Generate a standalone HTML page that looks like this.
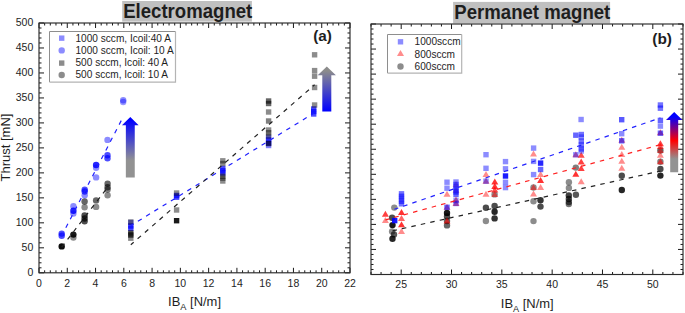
<!DOCTYPE html><html><head><meta charset="utf-8"><style>html,body{margin:0;padding:0;background:#fff;}svg{display:block;}text{font-family:"Liberation Sans",sans-serif;fill:#1e1e1e;}</style></head><body>
<svg width="685" height="313" viewBox="0 0 685 313">
<defs>
<linearGradient id="g1" x1="0" y1="0" x2="0" y2="1"><stop offset="0.05" stop-color="#0000ff"/><stop offset="0.72" stop-color="#929292"/><stop offset="1" stop-color="#929292"/></linearGradient>
<linearGradient id="g2" x1="0" y1="0" x2="0" y2="1"><stop offset="0.1" stop-color="#8c8c8c"/><stop offset="1" stop-color="#0000ff"/></linearGradient>
<linearGradient id="g3" x1="0" y1="0" x2="0" y2="1"><stop offset="0.08" stop-color="#0000ff"/><stop offset="0.475" stop-color="#ff0000"/><stop offset="0.78" stop-color="#929292"/><stop offset="1" stop-color="#929292"/></linearGradient>
</defs>
<rect x="122.2" y="1" width="129.7" height="20.6" fill="#c0c0c0"/>
<text transform="translate(187.7,17.9) scale(1,1.06)" font-size="18.6" text-anchor="middle" font-weight="bold">Electromagnet</text>
<rect x="453.1" y="1.9" width="157" height="21.4" fill="#c0c0c0"/>
<text transform="translate(532.3,18.9) scale(1,1.06)" font-size="18.6" text-anchor="middle" font-weight="bold">Permanet magnet</text>
<path d="M39.0,272.80h5M350.0,272.80h-5M39.0,267.80h2.5M350.0,267.80h-2.5M39.0,262.81h2.5M350.0,262.81h-2.5M39.0,257.81h2.5M350.0,257.81h-2.5M39.0,252.82h2.5M350.0,252.82h-2.5M39.0,247.82h5M350.0,247.82h-5M39.0,242.82h2.5M350.0,242.82h-2.5M39.0,237.83h2.5M350.0,237.83h-2.5M39.0,232.83h2.5M350.0,232.83h-2.5M39.0,227.84h2.5M350.0,227.84h-2.5M39.0,222.84h5M350.0,222.84h-5M39.0,217.84h2.5M350.0,217.84h-2.5M39.0,212.85h2.5M350.0,212.85h-2.5M39.0,207.85h2.5M350.0,207.85h-2.5M39.0,202.86h2.5M350.0,202.86h-2.5M39.0,197.86h5M350.0,197.86h-5M39.0,192.86h2.5M350.0,192.86h-2.5M39.0,187.87h2.5M350.0,187.87h-2.5M39.0,182.87h2.5M350.0,182.87h-2.5M39.0,177.88h2.5M350.0,177.88h-2.5M39.0,172.88h5M350.0,172.88h-5M39.0,167.88h2.5M350.0,167.88h-2.5M39.0,162.89h2.5M350.0,162.89h-2.5M39.0,157.89h2.5M350.0,157.89h-2.5M39.0,152.90h2.5M350.0,152.90h-2.5M39.0,147.90h5M350.0,147.90h-5M39.0,142.90h2.5M350.0,142.90h-2.5M39.0,137.91h2.5M350.0,137.91h-2.5M39.0,132.91h2.5M350.0,132.91h-2.5M39.0,127.92h2.5M350.0,127.92h-2.5M39.0,122.92h5M350.0,122.92h-5M39.0,117.92h2.5M350.0,117.92h-2.5M39.0,112.93h2.5M350.0,112.93h-2.5M39.0,107.93h2.5M350.0,107.93h-2.5M39.0,102.94h2.5M350.0,102.94h-2.5M39.0,97.94h5M350.0,97.94h-5M39.0,92.94h2.5M350.0,92.94h-2.5M39.0,87.95h2.5M350.0,87.95h-2.5M39.0,82.95h2.5M350.0,82.95h-2.5M39.0,77.96h2.5M350.0,77.96h-2.5M39.0,72.96h5M350.0,72.96h-5M39.0,67.96h2.5M350.0,67.96h-2.5M39.0,62.97h2.5M350.0,62.97h-2.5M39.0,57.97h2.5M350.0,57.97h-2.5M39.0,52.98h2.5M350.0,52.98h-2.5M39.0,47.98h5M350.0,47.98h-5M39.0,42.98h2.5M350.0,42.98h-2.5M39.0,37.99h2.5M350.0,37.99h-2.5M39.0,32.99h2.5M350.0,32.99h-2.5M39.0,28.00h2.5M350.0,28.00h-2.5M39.0,23.00h5M350.0,23.00h-5M39.00,272.8v-5M39.00,23.0v5M44.65,272.8v-2.5M44.65,23.0v2.5M50.31,272.8v-2.5M50.31,23.0v2.5M55.96,272.8v-2.5M55.96,23.0v2.5M61.62,272.8v-2.5M61.62,23.0v2.5M67.27,272.8v-5M67.27,23.0v5M72.93,272.8v-2.5M72.93,23.0v2.5M78.58,272.8v-2.5M78.58,23.0v2.5M84.24,272.8v-2.5M84.24,23.0v2.5M89.89,272.8v-2.5M89.89,23.0v2.5M95.55,272.8v-5M95.55,23.0v5M101.20,272.8v-2.5M101.20,23.0v2.5M106.85,272.8v-2.5M106.85,23.0v2.5M112.51,272.8v-2.5M112.51,23.0v2.5M118.16,272.8v-2.5M118.16,23.0v2.5M123.82,272.8v-5M123.82,23.0v5M129.47,272.8v-2.5M129.47,23.0v2.5M135.13,272.8v-2.5M135.13,23.0v2.5M140.78,272.8v-2.5M140.78,23.0v2.5M146.44,272.8v-2.5M146.44,23.0v2.5M152.09,272.8v-5M152.09,23.0v5M157.75,272.8v-2.5M157.75,23.0v2.5M163.40,272.8v-2.5M163.40,23.0v2.5M169.05,272.8v-2.5M169.05,23.0v2.5M174.71,272.8v-2.5M174.71,23.0v2.5M180.36,272.8v-5M180.36,23.0v5M186.02,272.8v-2.5M186.02,23.0v2.5M191.67,272.8v-2.5M191.67,23.0v2.5M197.33,272.8v-2.5M197.33,23.0v2.5M202.98,272.8v-2.5M202.98,23.0v2.5M208.64,272.8v-5M208.64,23.0v5M214.29,272.8v-2.5M214.29,23.0v2.5M219.95,272.8v-2.5M219.95,23.0v2.5M225.60,272.8v-2.5M225.60,23.0v2.5M231.25,272.8v-2.5M231.25,23.0v2.5M236.91,272.8v-5M236.91,23.0v5M242.56,272.8v-2.5M242.56,23.0v2.5M248.22,272.8v-2.5M248.22,23.0v2.5M253.87,272.8v-2.5M253.87,23.0v2.5M259.53,272.8v-2.5M259.53,23.0v2.5M265.18,272.8v-5M265.18,23.0v5M270.84,272.8v-2.5M270.84,23.0v2.5M276.49,272.8v-2.5M276.49,23.0v2.5M282.15,272.8v-2.5M282.15,23.0v2.5M287.80,272.8v-2.5M287.80,23.0v2.5M293.45,272.8v-5M293.45,23.0v5M299.11,272.8v-2.5M299.11,23.0v2.5M304.76,272.8v-2.5M304.76,23.0v2.5M310.42,272.8v-2.5M310.42,23.0v2.5M316.07,272.8v-2.5M316.07,23.0v2.5M321.73,272.8v-5M321.73,23.0v5M327.38,272.8v-2.5M327.38,23.0v2.5M333.04,272.8v-2.5M333.04,23.0v2.5M338.69,272.8v-2.5M338.69,23.0v2.5M344.35,272.8v-2.5M344.35,23.0v2.5M350.00,272.8v-5M350.00,23.0v5" stroke="#1a1a1a" stroke-width="1.0" fill="none"/>
<rect x="39.0" y="23.0" width="311.0" height="249.8" fill="none" stroke="#2a2a2a" stroke-width="1.15"/>
<path d="M371.0,274.50h5M683.0,274.50h-5M371.0,269.49h2.5M683.0,269.49h-2.5M371.0,264.48h2.5M683.0,264.48h-2.5M371.0,259.47h2.5M683.0,259.47h-2.5M371.0,254.46h2.5M683.0,254.46h-2.5M371.0,249.45h5M683.0,249.45h-5M371.0,244.44h2.5M683.0,244.44h-2.5M371.0,239.43h2.5M683.0,239.43h-2.5M371.0,234.42h2.5M683.0,234.42h-2.5M371.0,229.41h2.5M683.0,229.41h-2.5M371.0,224.40h5M683.0,224.40h-5M371.0,219.39h2.5M683.0,219.39h-2.5M371.0,214.38h2.5M683.0,214.38h-2.5M371.0,209.37h2.5M683.0,209.37h-2.5M371.0,204.36h2.5M683.0,204.36h-2.5M371.0,199.35h5M683.0,199.35h-5M371.0,194.34h2.5M683.0,194.34h-2.5M371.0,189.33h2.5M683.0,189.33h-2.5M371.0,184.32h2.5M683.0,184.32h-2.5M371.0,179.31h2.5M683.0,179.31h-2.5M371.0,174.30h5M683.0,174.30h-5M371.0,169.29h2.5M683.0,169.29h-2.5M371.0,164.28h2.5M683.0,164.28h-2.5M371.0,159.27h2.5M683.0,159.27h-2.5M371.0,154.26h2.5M683.0,154.26h-2.5M371.0,149.25h5M683.0,149.25h-5M371.0,144.24h2.5M683.0,144.24h-2.5M371.0,139.23h2.5M683.0,139.23h-2.5M371.0,134.22h2.5M683.0,134.22h-2.5M371.0,129.21h2.5M683.0,129.21h-2.5M371.0,124.20h5M683.0,124.20h-5M371.0,119.19h2.5M683.0,119.19h-2.5M371.0,114.18h2.5M683.0,114.18h-2.5M371.0,109.17h2.5M683.0,109.17h-2.5M371.0,104.16h2.5M683.0,104.16h-2.5M371.0,99.15h5M683.0,99.15h-5M371.0,94.14h2.5M683.0,94.14h-2.5M371.0,89.13h2.5M683.0,89.13h-2.5M371.0,84.12h2.5M683.0,84.12h-2.5M371.0,79.11h2.5M683.0,79.11h-2.5M371.0,74.10h5M683.0,74.10h-5M371.0,69.09h2.5M683.0,69.09h-2.5M371.0,64.08h2.5M683.0,64.08h-2.5M371.0,59.07h2.5M683.0,59.07h-2.5M371.0,54.06h2.5M683.0,54.06h-2.5M371.0,49.05h5M683.0,49.05h-5M371.0,44.04h2.5M683.0,44.04h-2.5M371.0,39.03h2.5M683.0,39.03h-2.5M371.0,34.02h2.5M683.0,34.02h-2.5M371.0,29.01h2.5M683.0,29.01h-2.5M371.0,24.00h5M683.0,24.00h-5M371.00,274.5v-2.5M371.00,24.0v2.5M381.06,274.5v-2.5M381.06,24.0v2.5M391.13,274.5v-2.5M391.13,24.0v2.5M401.19,274.5v-5M401.19,24.0v5M411.26,274.5v-2.5M411.26,24.0v2.5M421.32,274.5v-2.5M421.32,24.0v2.5M431.39,274.5v-2.5M431.39,24.0v2.5M441.45,274.5v-2.5M441.45,24.0v2.5M451.52,274.5v-5M451.52,24.0v5M461.58,274.5v-2.5M461.58,24.0v2.5M471.65,274.5v-2.5M471.65,24.0v2.5M481.71,274.5v-2.5M481.71,24.0v2.5M491.77,274.5v-2.5M491.77,24.0v2.5M501.84,274.5v-5M501.84,24.0v5M511.90,274.5v-2.5M511.90,24.0v2.5M521.97,274.5v-2.5M521.97,24.0v2.5M532.03,274.5v-2.5M532.03,24.0v2.5M542.10,274.5v-2.5M542.10,24.0v2.5M552.16,274.5v-5M552.16,24.0v5M562.23,274.5v-2.5M562.23,24.0v2.5M572.29,274.5v-2.5M572.29,24.0v2.5M582.35,274.5v-2.5M582.35,24.0v2.5M592.42,274.5v-2.5M592.42,24.0v2.5M602.48,274.5v-5M602.48,24.0v5M612.55,274.5v-2.5M612.55,24.0v2.5M622.61,274.5v-2.5M622.61,24.0v2.5M632.68,274.5v-2.5M632.68,24.0v2.5M642.74,274.5v-2.5M642.74,24.0v2.5M652.81,274.5v-5M652.81,24.0v5M662.87,274.5v-2.5M662.87,24.0v2.5M672.94,274.5v-2.5M672.94,24.0v2.5M683.00,274.5v-2.5M683.00,24.0v2.5" stroke="#1a1a1a" stroke-width="1.0" fill="none"/>
<rect x="371.0" y="24.0" width="312.0" height="250.5" fill="none" stroke="#2a2a2a" stroke-width="1.15"/>
<text x="33.3" y="276.1" font-size="10.5" text-anchor="end" font-weight="normal" >0</text>
<text x="33.3" y="251.12000000000003" font-size="10.5" text-anchor="end" font-weight="normal" >50</text>
<text x="33.3" y="226.14000000000001" font-size="10.5" text-anchor="end" font-weight="normal" >100</text>
<text x="33.3" y="201.16000000000003" font-size="10.5" text-anchor="end" font-weight="normal" >150</text>
<text x="33.3" y="176.18" font-size="10.5" text-anchor="end" font-weight="normal" >200</text>
<text x="33.3" y="151.20000000000002" font-size="10.5" text-anchor="end" font-weight="normal" >250</text>
<text x="33.3" y="126.22000000000001" font-size="10.5" text-anchor="end" font-weight="normal" >300</text>
<text x="33.3" y="101.24" font-size="10.5" text-anchor="end" font-weight="normal" >350</text>
<text x="33.3" y="76.26" font-size="10.5" text-anchor="end" font-weight="normal" >400</text>
<text x="33.3" y="51.280000000000015" font-size="10.5" text-anchor="end" font-weight="normal" >450</text>
<text x="33.3" y="26.3" font-size="10.5" text-anchor="end" font-weight="normal" >500</text>
<text x="39.0" y="286.6" font-size="10.5" text-anchor="middle" font-weight="normal" >0</text>
<text x="67.27272727272728" y="286.6" font-size="10.5" text-anchor="middle" font-weight="normal" >2</text>
<text x="95.54545454545455" y="286.6" font-size="10.5" text-anchor="middle" font-weight="normal" >4</text>
<text x="123.81818181818181" y="286.6" font-size="10.5" text-anchor="middle" font-weight="normal" >6</text>
<text x="152.0909090909091" y="286.6" font-size="10.5" text-anchor="middle" font-weight="normal" >8</text>
<text x="180.36363636363637" y="286.6" font-size="10.5" text-anchor="middle" font-weight="normal" >10</text>
<text x="208.63636363636363" y="286.6" font-size="10.5" text-anchor="middle" font-weight="normal" >12</text>
<text x="236.9090909090909" y="286.6" font-size="10.5" text-anchor="middle" font-weight="normal" >14</text>
<text x="265.1818181818182" y="286.6" font-size="10.5" text-anchor="middle" font-weight="normal" >16</text>
<text x="293.4545454545455" y="286.6" font-size="10.5" text-anchor="middle" font-weight="normal" >18</text>
<text x="321.72727272727275" y="286.6" font-size="10.5" text-anchor="middle" font-weight="normal" >20</text>
<text x="350.0" y="286.6" font-size="10.5" text-anchor="middle" font-weight="normal" >22</text>
<text x="401.19354838709677" y="288.0" font-size="10.5" text-anchor="middle" font-weight="normal" >25</text>
<text x="451.51612903225805" y="288.0" font-size="10.5" text-anchor="middle" font-weight="normal" >30</text>
<text x="501.8387096774194" y="288.0" font-size="10.5" text-anchor="middle" font-weight="normal" >35</text>
<text x="552.1612903225806" y="288.0" font-size="10.5" text-anchor="middle" font-weight="normal" >40</text>
<text x="602.483870967742" y="288.0" font-size="10.5" text-anchor="middle" font-weight="normal" >45</text>
<text x="652.8064516129032" y="288.0" font-size="10.5" text-anchor="middle" font-weight="normal" >50</text>
<text transform="translate(10.4,147.5) rotate(-90)" font-size="13" text-anchor="middle">Thrust [mN]</text>
<text transform="translate(168.1,306) scale(1,1)" font-size="12.95">IB<tspan font-size="9.2" dy="4">A</tspan><tspan dy="-4"> [N/m]</tspan></text>
<text transform="translate(500.8,307.8) scale(1,1)" font-size="12.95">IB<tspan font-size="9.2" dy="4">A</tspan><tspan dy="-4"> [N/m]</tspan></text>
<text transform="translate(322.6,40.7) scale(1.02,1)" font-size="15" text-anchor="middle" font-weight="bold" >(a)</text>
<text transform="translate(662.1,44.1) scale(1.03,1)" font-size="15" text-anchor="middle" font-weight="bold" >(b)</text>
<rect x="128.10" y="219.80" width="5.4" height="5.4" fill="#0000ff" fill-opacity="0.45"/>
<rect x="128.10" y="223.30" width="5.4" height="5.4" fill="#0000ff" fill-opacity="0.7"/>
<rect x="128.10" y="225.60" width="5.4" height="5.4" fill="#0000ff" fill-opacity="0.7"/>
<rect x="173.90" y="192.80" width="5.4" height="5.4" fill="#0000ff" fill-opacity="0.7"/>
<rect x="173.90" y="194.50" width="5.4" height="5.4" fill="#0000ff" fill-opacity="0.7"/>
<rect x="220.10" y="165.80" width="5.4" height="5.4" fill="#0000ff" fill-opacity="0.7"/>
<rect x="220.10" y="168.10" width="5.4" height="5.4" fill="#0000ff" fill-opacity="0.7"/>
<rect x="220.10" y="170.30" width="5.4" height="5.4" fill="#0000ff" fill-opacity="0.7"/>
<rect x="265.90" y="134.80" width="5.4" height="5.4" fill="#0000ff" fill-opacity="0.45"/>
<rect x="265.90" y="137.30" width="5.4" height="5.4" fill="#0000ff" fill-opacity="0.7"/>
<rect x="265.90" y="140.30" width="5.4" height="5.4" fill="#0000ff" fill-opacity="0.7"/>
<rect x="265.90" y="142.80" width="5.4" height="5.4" fill="#0000ff" fill-opacity="0.5"/>
<rect x="311.00" y="106.30" width="5.4" height="5.4" fill="#0000ff" fill-opacity="0.7"/>
<rect x="311.00" y="108.80" width="5.4" height="5.4" fill="#0000ff" fill-opacity="0.7"/>
<rect x="311.00" y="111.30" width="5.4" height="5.4" fill="#0000ff" fill-opacity="0.7"/>
<circle cx="61.70" cy="233.60" r="3.2" fill="#0000ff" fill-opacity="0.7"/>
<circle cx="61.70" cy="235.80" r="3.2" fill="#0000ff" fill-opacity="0.7"/>
<circle cx="73.40" cy="206.30" r="3.2" fill="#0000ff" fill-opacity="0.45"/>
<circle cx="73.40" cy="210.80" r="3.2" fill="#0000ff" fill-opacity="0.85"/>
<circle cx="73.40" cy="213.50" r="3.2" fill="#0000ff" fill-opacity="0.45"/>
<circle cx="84.70" cy="189.80" r="3.2" fill="#0000ff" fill-opacity="0.7"/>
<circle cx="84.70" cy="191.50" r="3.2" fill="#0000ff" fill-opacity="0.7"/>
<circle cx="84.70" cy="195.20" r="3.2" fill="#0000ff" fill-opacity="0.45"/>
<circle cx="96.10" cy="165.00" r="3.2" fill="#0000ff" fill-opacity="0.85"/>
<circle cx="96.10" cy="167.80" r="3.2" fill="#0000ff" fill-opacity="0.45"/>
<circle cx="96.10" cy="177.40" r="3.2" fill="#0000ff" fill-opacity="0.45"/>
<circle cx="107.50" cy="139.90" r="3.2" fill="#0000ff" fill-opacity="0.45"/>
<circle cx="107.50" cy="155.30" r="3.2" fill="#0000ff" fill-opacity="0.7"/>
<circle cx="107.50" cy="158.30" r="3.2" fill="#0000ff" fill-opacity="0.7"/>
<circle cx="123.20" cy="100.20" r="3.2" fill="#0000ff" fill-opacity="0.45"/>
<circle cx="123.20" cy="102.00" r="3.2" fill="#0000ff" fill-opacity="0.4"/>
<rect x="128.10" y="219.30" width="5.4" height="5.4" fill="#000000" fill-opacity="0.45"/>
<rect x="128.10" y="230.30" width="5.4" height="5.4" fill="#000000" fill-opacity="0.7"/>
<rect x="128.10" y="232.30" width="5.4" height="5.4" fill="#000000" fill-opacity="0.7"/>
<rect x="128.10" y="235.50" width="5.4" height="5.4" fill="#000000" fill-opacity="0.45"/>
<rect x="173.90" y="190.30" width="5.4" height="5.4" fill="#000000" fill-opacity="0.45"/>
<rect x="173.90" y="207.30" width="5.4" height="5.4" fill="#000000" fill-opacity="0.45"/>
<rect x="173.90" y="218.00" width="5.4" height="5.4" fill="#000000" fill-opacity="0.9"/>
<rect x="220.10" y="158.10" width="5.4" height="5.4" fill="#000000" fill-opacity="0.45"/>
<rect x="220.10" y="160.80" width="5.4" height="5.4" fill="#000000" fill-opacity="0.45"/>
<rect x="220.10" y="173.60" width="5.4" height="5.4" fill="#000000" fill-opacity="0.5"/>
<rect x="220.10" y="175.60" width="5.4" height="5.4" fill="#000000" fill-opacity="0.4"/>
<rect x="220.10" y="178.30" width="5.4" height="5.4" fill="#000000" fill-opacity="0.45"/>
<rect x="265.90" y="98.30" width="5.4" height="5.4" fill="#000000" fill-opacity="0.6"/>
<rect x="265.90" y="100.80" width="5.4" height="5.4" fill="#000000" fill-opacity="0.6"/>
<rect x="265.90" y="109.30" width="5.4" height="5.4" fill="#000000" fill-opacity="0.45"/>
<rect x="265.90" y="118.30" width="5.4" height="5.4" fill="#000000" fill-opacity="0.5"/>
<rect x="265.90" y="127.30" width="5.4" height="5.4" fill="#000000" fill-opacity="0.45"/>
<rect x="265.90" y="130.00" width="5.4" height="5.4" fill="#000000" fill-opacity="0.45"/>
<rect x="265.90" y="133.30" width="5.4" height="5.4" fill="#000000" fill-opacity="0.4"/>
<rect x="265.90" y="140.80" width="5.4" height="5.4" fill="#000000" fill-opacity="0.6"/>
<rect x="311.90" y="52.10" width="5.4" height="5.4" fill="#000000" fill-opacity="0.45"/>
<rect x="311.90" y="67.90" width="5.4" height="5.4" fill="#000000" fill-opacity="0.45"/>
<rect x="311.90" y="73.50" width="5.4" height="5.4" fill="#000000" fill-opacity="0.45"/>
<rect x="311.90" y="84.80" width="5.4" height="5.4" fill="#000000" fill-opacity="0.45"/>
<rect x="311.90" y="102.30" width="5.4" height="5.4" fill="#000000" fill-opacity="0.45"/>
<circle cx="61.70" cy="246.40" r="3.2" fill="#000000" fill-opacity="0.95"/>
<circle cx="73.40" cy="234.60" r="3.2" fill="#000000" fill-opacity="0.9"/>
<circle cx="73.40" cy="237.60" r="3.2" fill="#000000" fill-opacity="0.45"/>
<circle cx="84.60" cy="201.50" r="3.2" fill="#000000" fill-opacity="0.6"/>
<circle cx="84.60" cy="207.30" r="3.2" fill="#000000" fill-opacity="0.45"/>
<circle cx="84.60" cy="215.50" r="3.2" fill="#000000" fill-opacity="0.7"/>
<circle cx="84.60" cy="218.50" r="3.2" fill="#000000" fill-opacity="0.7"/>
<circle cx="84.60" cy="221.20" r="3.2" fill="#000000" fill-opacity="0.7"/>
<circle cx="96.10" cy="200.40" r="3.2" fill="#000000" fill-opacity="0.6"/>
<circle cx="96.10" cy="206.90" r="3.2" fill="#000000" fill-opacity="0.45"/>
<circle cx="107.60" cy="183.80" r="3.2" fill="#000000" fill-opacity="0.6"/>
<circle cx="107.60" cy="187.20" r="3.2" fill="#000000" fill-opacity="0.6"/>
<circle cx="107.60" cy="189.60" r="3.2" fill="#000000" fill-opacity="0.5"/>
<circle cx="107.60" cy="195.20" r="3.2" fill="#000000" fill-opacity="0.45"/>
<line x1="61.70" y1="235.80" x2="123.20" y2="116.80" stroke="#2020ff" stroke-width="1.2" stroke-dasharray="4.5 5.18" stroke-dashoffset="0.69"/>
<line x1="61.70" y1="247.10" x2="107.60" y2="187.40" stroke="#222" stroke-width="1.2" stroke-dasharray="4.5 5.18" stroke-dashoffset="0"/>
<line x1="130.80" y1="225.60" x2="313.70" y2="113.30" stroke="#2020ff" stroke-width="1.2" stroke-dasharray="4.5 5.18" stroke-dashoffset="1.39"/>
<line x1="130.80" y1="244.70" x2="314.60" y2="84.80" stroke="#222" stroke-width="1.2" stroke-dasharray="4.5 5.18" stroke-dashoffset="0.67"/>
<path d="M130.3,116.9L138.65,125.3L134.75,125.3L134.75,177.6L125.85000000000001,177.6L125.85000000000001,125.3L121.95000000000002,125.3Z" fill="url(#g1)"/>
<path d="M326.8,66.5L335.90000000000003,75.3L331.3,75.3L331.3,111.5L322.3,111.5L322.3,75.3L317.7,75.3Z" fill="url(#g2)"/>
<rect x="49.5" y="31.5" width="126" height="50.6" fill="#fff" stroke="none"/><path d="M49.5,82.1V31.5H175.5" fill="none" stroke="#8e8e8e" stroke-width="1"/><path d="M175.5,31.5V82.1H49.5" fill="none" stroke="#b4b4b4" stroke-width="1.2"/>
<rect x="59.00" y="35.45" width="5.4" height="5.4" fill="#0000ff" fill-opacity="0.45"/>
<circle cx="61.70" cy="50.40" r="3.2" fill="#0000ff" fill-opacity="0.45"/>
<rect x="59.00" y="60.40" width="5.4" height="5.4" fill="#000000" fill-opacity="0.45"/>
<circle cx="61.70" cy="75.00" r="3.2" fill="#000000" fill-opacity="0.45"/>
<text x="75.5" y="41.6" font-size="10.1" text-anchor="start" font-weight="normal" >1000 sccm, Icoil:40 A</text>
<text x="75.5" y="53.7" font-size="10.1" text-anchor="start" font-weight="normal" >1000 sccm, Icoil: 10 A</text>
<text x="75.5" y="65.8" font-size="10.1" text-anchor="start" font-weight="normal" >500 sccm, Icoil: 40 A</text>
<text x="75.5" y="77.9" font-size="10.1" text-anchor="start" font-weight="normal" >500 sccm, Icoil: 10 A</text>
<circle cx="394.30" cy="207.60" r="3.2" fill="#000000" fill-opacity="0.45"/>
<circle cx="392.10" cy="217.80" r="3.2" fill="#000000" fill-opacity="0.7"/>
<circle cx="392.50" cy="225.10" r="3.2" fill="#000000" fill-opacity="0.9"/>
<circle cx="392.10" cy="231.50" r="3.2" fill="#000000" fill-opacity="0.45"/>
<circle cx="394.00" cy="234.40" r="3.2" fill="#000000" fill-opacity="0.65"/>
<circle cx="392.50" cy="238.70" r="3.2" fill="#000000" fill-opacity="0.85"/>
<circle cx="447.00" cy="212.90" r="3.2" fill="#000000" fill-opacity="0.9"/>
<circle cx="447.00" cy="216.50" r="3.2" fill="#000000" fill-opacity="0.7"/>
<circle cx="447.00" cy="221.00" r="3.2" fill="#000000" fill-opacity="0.6"/>
<circle cx="447.00" cy="225.40" r="3.2" fill="#000000" fill-opacity="0.6"/>
<circle cx="485.90" cy="207.80" r="3.2" fill="#000000" fill-opacity="0.7"/>
<circle cx="485.90" cy="221.00" r="3.2" fill="#000000" fill-opacity="0.45"/>
<circle cx="494.60" cy="194.40" r="3.2" fill="#000000" fill-opacity="0.45"/>
<circle cx="494.60" cy="205.90" r="3.2" fill="#000000" fill-opacity="0.7"/>
<circle cx="494.60" cy="211.70" r="3.2" fill="#000000" fill-opacity="0.85"/>
<circle cx="494.60" cy="218.40" r="3.2" fill="#000000" fill-opacity="0.8"/>
<circle cx="533.50" cy="187.50" r="3.2" fill="#000000" fill-opacity="0.45"/>
<circle cx="533.50" cy="201.20" r="3.2" fill="#000000" fill-opacity="0.45"/>
<circle cx="533.50" cy="221.10" r="3.2" fill="#000000" fill-opacity="0.45"/>
<circle cx="540.50" cy="200.20" r="3.2" fill="#000000" fill-opacity="0.8"/>
<circle cx="540.50" cy="206.60" r="3.2" fill="#000000" fill-opacity="0.7"/>
<circle cx="568.90" cy="182.30" r="3.2" fill="#000000" fill-opacity="0.45"/>
<circle cx="568.90" cy="187.90" r="3.2" fill="#000000" fill-opacity="0.45"/>
<circle cx="568.80" cy="195.50" r="3.2" fill="#000000" fill-opacity="0.75"/>
<circle cx="568.80" cy="199.00" r="3.2" fill="#000000" fill-opacity="0.7"/>
<circle cx="568.80" cy="202.00" r="3.2" fill="#000000" fill-opacity="0.6"/>
<circle cx="568.80" cy="204.00" r="3.2" fill="#000000" fill-opacity="0.55"/>
<circle cx="575.80" cy="167.60" r="3.2" fill="#000000" fill-opacity="0.5"/>
<circle cx="575.90" cy="194.70" r="3.2" fill="#000000" fill-opacity="0.65"/>
<circle cx="621.80" cy="175.70" r="3.2" fill="#000000" fill-opacity="0.7"/>
<circle cx="621.80" cy="190.00" r="3.2" fill="#000000" fill-opacity="0.85"/>
<circle cx="660.40" cy="150.50" r="3.2" fill="#000000" fill-opacity="0.6"/>
<circle cx="660.40" cy="161.80" r="3.2" fill="#000000" fill-opacity="0.5"/>
<circle cx="660.40" cy="169.00" r="3.2" fill="#000000" fill-opacity="0.7"/>
<circle cx="660.40" cy="175.60" r="3.2" fill="#000000" fill-opacity="0.85"/>
<path d="M385.40,210.72L388.90,216.72L381.90,216.72Z" fill="#ff0000" fill-opacity="0.75"/>
<path d="M385.40,217.12L388.90,223.12L381.90,223.12Z" fill="#ff0000" fill-opacity="0.45"/>
<path d="M401.50,209.02L405.00,215.02L398.00,215.02Z" fill="#ff0000" fill-opacity="0.8"/>
<path d="M401.50,214.92L405.00,220.92L398.00,220.92Z" fill="#ff0000" fill-opacity="0.6"/>
<path d="M401.50,221.22L405.00,227.22L398.00,227.22Z" fill="#ff0000" fill-opacity="0.8"/>
<path d="M401.50,228.02L405.00,234.02L398.00,234.02Z" fill="#ff0000" fill-opacity="0.45"/>
<path d="M447.00,190.82L450.50,196.82L443.50,196.82Z" fill="#ff0000" fill-opacity="0.45"/>
<path d="M447.00,203.82L450.50,209.82L443.50,209.82Z" fill="#ff0000" fill-opacity="0.5"/>
<path d="M447.00,217.52L450.50,223.52L443.50,223.52Z" fill="#ff0000" fill-opacity="0.6"/>
<path d="M456.00,181.02L459.50,187.02L452.50,187.02Z" fill="#ff0000" fill-opacity="0.3"/>
<path d="M456.00,187.02L459.50,193.02L452.50,193.02Z" fill="#ff0000" fill-opacity="0.3"/>
<path d="M456.00,196.52L459.50,202.52L452.50,202.52Z" fill="#ff0000" fill-opacity="0.55"/>
<path d="M456.00,200.02L459.50,206.02L452.50,206.02Z" fill="#ff0000" fill-opacity="0.55"/>
<path d="M486.00,170.92L489.50,176.92L482.50,176.92Z" fill="#ff0000" fill-opacity="0.45"/>
<path d="M486.00,177.72L489.50,183.72L482.50,183.72Z" fill="#ff0000" fill-opacity="0.5"/>
<path d="M486.00,190.82L489.50,196.82L482.50,196.82Z" fill="#ff0000" fill-opacity="0.45"/>
<path d="M494.80,178.52L498.30,184.52L491.30,184.52Z" fill="#ff0000" fill-opacity="0.8"/>
<path d="M494.80,183.02L498.30,189.02L491.30,189.02Z" fill="#ff0000" fill-opacity="0.8"/>
<path d="M494.80,186.52L498.30,192.52L491.30,192.52Z" fill="#ff0000" fill-opacity="0.7"/>
<path d="M494.70,190.92L498.20,196.92L491.20,196.92Z" fill="#ff0000" fill-opacity="0.5"/>
<path d="M533.50,150.62L537.00,156.62L530.00,156.62Z" fill="#ff0000" fill-opacity="0.45"/>
<path d="M533.50,184.02L537.00,190.02L530.00,190.02Z" fill="#ff0000" fill-opacity="0.5"/>
<path d="M533.50,190.52L537.00,196.52L530.00,196.52Z" fill="#ff0000" fill-opacity="0.45"/>
<path d="M540.60,171.12L544.10,177.12L537.10,177.12Z" fill="#ff0000" fill-opacity="0.45"/>
<path d="M540.60,177.02L544.10,183.02L537.10,183.02Z" fill="#ff0000" fill-opacity="0.8"/>
<path d="M540.60,184.02L544.10,190.02L537.10,190.02Z" fill="#ff0000" fill-opacity="0.45"/>
<path d="M575.80,151.32L579.30,157.32L572.30,157.32Z" fill="#ff0000" fill-opacity="0.5"/>
<path d="M575.80,170.72L579.30,176.72L572.30,176.72Z" fill="#ff0000" fill-opacity="0.8"/>
<path d="M581.20,151.72L584.70,157.72L577.70,157.72Z" fill="#ff0000" fill-opacity="0.7"/>
<path d="M581.20,158.62L584.70,164.62L577.70,164.62Z" fill="#ff0000" fill-opacity="0.75"/>
<path d="M581.20,165.02L584.70,171.02L577.70,171.02Z" fill="#ff0000" fill-opacity="0.75"/>
<path d="M581.20,178.32L584.70,184.32L577.70,184.32Z" fill="#ff0000" fill-opacity="0.45"/>
<path d="M621.80,136.82L625.30,142.82L618.30,142.82Z" fill="#ff0000" fill-opacity="0.5"/>
<path d="M621.80,143.72L625.30,149.72L618.30,149.72Z" fill="#ff0000" fill-opacity="0.45"/>
<path d="M621.80,150.92L625.30,156.92L618.30,156.92Z" fill="#ff0000" fill-opacity="0.45"/>
<path d="M621.80,157.82L625.30,163.82L618.30,163.82Z" fill="#ff0000" fill-opacity="0.45"/>
<path d="M621.80,164.82L625.30,170.82L618.30,170.82Z" fill="#ff0000" fill-opacity="0.45"/>
<path d="M660.40,129.32L663.90,135.32L656.90,135.32Z" fill="#ff0000" fill-opacity="0.6"/>
<path d="M660.40,140.32L663.90,146.32L656.90,146.32Z" fill="#ff0000" fill-opacity="0.75"/>
<path d="M660.40,143.02L663.90,149.02L656.90,149.02Z" fill="#ff0000" fill-opacity="0.6"/>
<path d="M660.40,147.02L663.90,153.02L656.90,153.02Z" fill="#ff0000" fill-opacity="0.5"/>
<path d="M660.40,151.72L663.90,157.72L656.90,157.72Z" fill="#ff0000" fill-opacity="0.45"/>
<path d="M660.40,158.32L663.90,164.32L656.90,164.32Z" fill="#ff0000" fill-opacity="0.6"/>
<rect x="398.80" y="191.10" width="5.4" height="5.4" fill="#0000ff" fill-opacity="0.55"/>
<rect x="398.80" y="193.60" width="5.4" height="5.4" fill="#0000ff" fill-opacity="0.55"/>
<rect x="398.80" y="196.10" width="5.4" height="5.4" fill="#0000ff" fill-opacity="0.55"/>
<rect x="398.80" y="198.60" width="5.4" height="5.4" fill="#0000ff" fill-opacity="0.55"/>
<rect x="398.80" y="201.10" width="5.4" height="5.4" fill="#0000ff" fill-opacity="0.55"/>
<rect x="392.00" y="217.90" width="5.4" height="5.4" fill="#0000ff" fill-opacity="0.9"/>
<rect x="444.30" y="179.50" width="5.4" height="5.4" fill="#0000ff" fill-opacity="0.45"/>
<rect x="444.30" y="185.50" width="5.4" height="5.4" fill="#0000ff" fill-opacity="0.45"/>
<rect x="444.30" y="204.60" width="5.4" height="5.4" fill="#0000ff" fill-opacity="0.6"/>
<rect x="453.30" y="179.30" width="5.4" height="5.4" fill="#0000ff" fill-opacity="0.45"/>
<rect x="453.30" y="181.80" width="5.4" height="5.4" fill="#0000ff" fill-opacity="0.5"/>
<rect x="453.30" y="184.30" width="5.4" height="5.4" fill="#0000ff" fill-opacity="0.5"/>
<rect x="453.30" y="186.80" width="5.4" height="5.4" fill="#0000ff" fill-opacity="0.55"/>
<rect x="453.30" y="189.30" width="5.4" height="5.4" fill="#0000ff" fill-opacity="0.6"/>
<rect x="453.30" y="191.80" width="5.4" height="5.4" fill="#0000ff" fill-opacity="0.6"/>
<rect x="453.30" y="197.80" width="5.4" height="5.4" fill="#0000ff" fill-opacity="0.4"/>
<rect x="453.30" y="200.80" width="5.4" height="5.4" fill="#0000ff" fill-opacity="0.45"/>
<rect x="483.30" y="152.00" width="5.4" height="5.4" fill="#0000ff" fill-opacity="0.45"/>
<rect x="483.30" y="165.60" width="5.4" height="5.4" fill="#0000ff" fill-opacity="0.45"/>
<rect x="483.30" y="178.50" width="5.4" height="5.4" fill="#0000ff" fill-opacity="0.45"/>
<rect x="502.80" y="158.90" width="5.4" height="5.4" fill="#0000ff" fill-opacity="0.45"/>
<rect x="502.80" y="166.10" width="5.4" height="5.4" fill="#0000ff" fill-opacity="0.45"/>
<rect x="502.80" y="173.30" width="5.4" height="5.4" fill="#0000ff" fill-opacity="0.9"/>
<rect x="502.80" y="179.60" width="5.4" height="5.4" fill="#0000ff" fill-opacity="0.45"/>
<rect x="502.80" y="184.90" width="5.4" height="5.4" fill="#0000ff" fill-opacity="0.45"/>
<rect x="530.90" y="145.40" width="5.4" height="5.4" fill="#0000ff" fill-opacity="0.45"/>
<rect x="530.90" y="158.70" width="5.4" height="5.4" fill="#0000ff" fill-opacity="0.45"/>
<rect x="530.90" y="171.90" width="5.4" height="5.4" fill="#0000ff" fill-opacity="0.45"/>
<rect x="537.90" y="160.40" width="5.4" height="5.4" fill="#0000ff" fill-opacity="0.85"/>
<rect x="537.90" y="166.80" width="5.4" height="5.4" fill="#0000ff" fill-opacity="0.6"/>
<rect x="573.10" y="132.50" width="5.4" height="5.4" fill="#0000ff" fill-opacity="0.6"/>
<rect x="573.10" y="152.10" width="5.4" height="5.4" fill="#0000ff" fill-opacity="0.45"/>
<rect x="578.40" y="116.80" width="5.4" height="5.4" fill="#0000ff" fill-opacity="0.45"/>
<rect x="578.60" y="131.80" width="5.4" height="5.4" fill="#0000ff" fill-opacity="0.55"/>
<rect x="578.60" y="134.30" width="5.4" height="5.4" fill="#0000ff" fill-opacity="0.4"/>
<rect x="578.60" y="138.30" width="5.4" height="5.4" fill="#0000ff" fill-opacity="0.55"/>
<rect x="578.60" y="142.30" width="5.4" height="5.4" fill="#0000ff" fill-opacity="0.55"/>
<rect x="578.60" y="146.30" width="5.4" height="5.4" fill="#0000ff" fill-opacity="0.55"/>
<rect x="578.60" y="148.30" width="5.4" height="5.4" fill="#0000ff" fill-opacity="0.4"/>
<rect x="619.00" y="117.00" width="5.4" height="5.4" fill="#0000ff" fill-opacity="0.65"/>
<rect x="619.00" y="131.00" width="5.4" height="5.4" fill="#0000ff" fill-opacity="0.45"/>
<rect x="619.00" y="138.10" width="5.4" height="5.4" fill="#0000ff" fill-opacity="0.6"/>
<rect x="657.70" y="102.30" width="5.4" height="5.4" fill="#0000ff" fill-opacity="0.55"/>
<rect x="657.70" y="105.50" width="5.4" height="5.4" fill="#0000ff" fill-opacity="0.55"/>
<rect x="657.70" y="117.70" width="5.4" height="5.4" fill="#0000ff" fill-opacity="0.6"/>
<rect x="657.70" y="123.40" width="5.4" height="5.4" fill="#0000ff" fill-opacity="0.45"/>
<rect x="657.70" y="130.50" width="5.4" height="5.4" fill="#0000ff" fill-opacity="0.6"/>
<line x1="394.40" y1="209.30" x2="660.40" y2="117.90" stroke="#2020ff" stroke-width="1.2" stroke-dasharray="4.5 5.18" stroke-dashoffset="0.42"/>
<line x1="385.40" y1="219.90" x2="660.40" y2="144.70" stroke="#ff2020" stroke-width="1.2" stroke-dasharray="4.5 5.18" stroke-dashoffset="0.37"/>
<line x1="392.50" y1="230.80" x2="660.40" y2="171.05" stroke="#222" stroke-width="1.2" stroke-dasharray="4.5 5.18" stroke-dashoffset="0.04"/>
<path d="M674.2,112L682.4000000000001,120.1L678.2,120.1L678.2,172.2L670.2,172.2L670.2,120.1L666.0,120.1Z" fill="url(#g3)"/>
<rect x="387.5" y="34.5" width="74.2" height="38.6" fill="#fff" stroke="none"/><path d="M387.5,73.1V34.5H461.7" fill="none" stroke="#8e8e8e" stroke-width="1"/><path d="M461.7,34.5V73.1H387.5" fill="none" stroke="#b4b4b4" stroke-width="1.2"/>
<rect x="397.80" y="39.10" width="5.4" height="5.4" fill="#0000ff" fill-opacity="0.45"/>
<path d="M400.50,50.02L404.00,56.02L397.00,56.02Z" fill="#ff0000" fill-opacity="0.45"/>
<circle cx="400.50" cy="66.50" r="3.2" fill="#000000" fill-opacity="0.45"/>
<text x="414.6" y="45.2" font-size="10.1" text-anchor="start" font-weight="normal" >1000sccm</text>
<text x="414.6" y="57.6" font-size="10.1" text-anchor="start" font-weight="normal" >800sccm</text>
<text x="414.6" y="69.7" font-size="10.1" text-anchor="start" font-weight="normal" >600sccm</text>
</svg></body></html>
